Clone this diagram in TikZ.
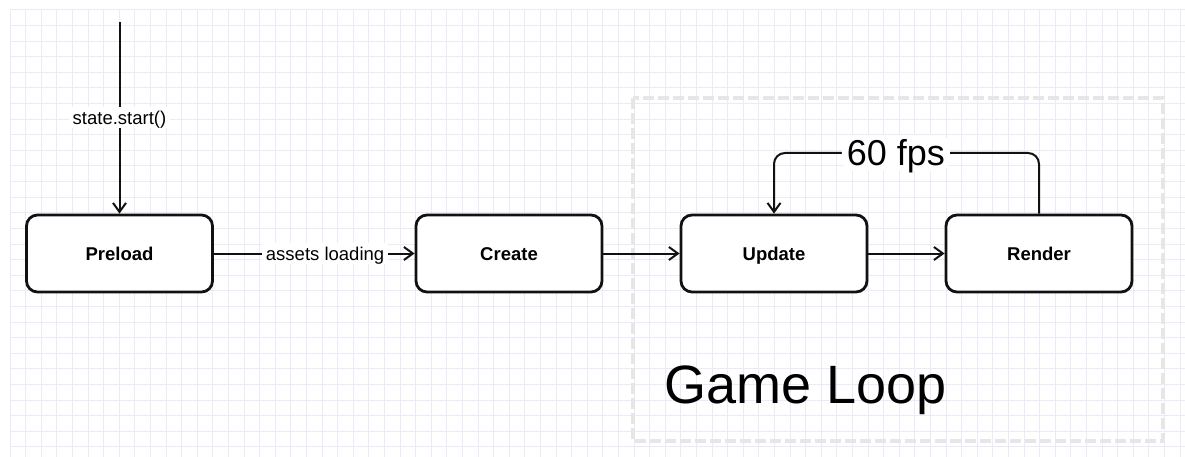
\documentclass[tikz,border=0pt]{standalone}
\usepackage{fontspec}
\setmainfont{Liberation Sans}
\usetikzlibrary{arrows.meta}
\definecolor{gridc}{HTML}{EAEAF8}
\definecolor{dashc}{HTML}{E6E6E6}
\definecolor{ink}{HTML}{111111}
\begin{document}
\begin{tikzpicture}[x=1pt,y=-1pt,
  gridline/.style={draw=gridc,line width=1pt},
  loopframe/.style={draw=dashc,line width=4pt,dash pattern=on 11pt off 4pt},
  stepbox/.style={draw=ink,fill=white,line width=2.8pt,rounded corners=11pt,
    minimum width=186pt,minimum height=77pt,inner sep=0pt,
    font=\fontsize{18.5}{22}\selectfont\bfseries,text height=13.3pt,text depth=0pt},
  conn/.style={draw=ink,line width=2pt,-{Straight Barb[length=9pt,width=13pt,line width=2pt]}},
  lbl/.style={fill=white,inner sep=4pt,font=\fontsize{18.5}{22}\selectfont,text height=13.3pt,text depth=0pt},
  fpslbl/.style={fill=white,inner sep=5pt,font=\fontsize{36}{40}\selectfont,text height=25.8pt,text depth=0pt},
]
\useasboundingbox (0,0) rectangle (1185,457);
\fill[white] (0,0) rectangle (1185,457);
\begin{scope}
\clip (0,0) rectangle (1185,457);
\foreach \i in {0,...,75} \draw[gridline] ({10+15.6*\i},10) -- ({10+15.6*\i},457);
\foreach \j in {0,...,28} \draw[gridline] (10,{10+15.6*\j}) -- (1185,{10+15.6*\j});
\end{scope}
\draw[loopframe] (633,98) rectangle (1163,441);

\node[stepbox] (preload) at (119.5,253.5) {Preload};
\node[stepbox] (create) at (509,253.5) {Create};
\node[stepbox] (update) at (774,253.5) {Update};
\node[stepbox] (render) at (1039,253.5) {Render};

\coordinate (start) at (119.5,22);
\coordinate (loopy) at (0,153);

\draw[conn] (start) -- node[lbl]{state.start()} (preload);
\draw[conn] (preload) -- node[lbl,pos=0.554]{assets loading} (create);
\draw[conn] (create) -- (update);
\draw[conn] (update) -- (render);
\draw[conn,rounded corners=11pt] (render.north) -- (render.north |- loopy)
  -- node[fpslbl,pos=0.54]{60 fps} (update.north |- loopy) -- (update.north);

\node[anchor=base west,inner sep=0pt,font=\fontsize{54}{60}\selectfont] (gameloop) at (664,403) {Game Loop};
\end{tikzpicture}
\end{document}
